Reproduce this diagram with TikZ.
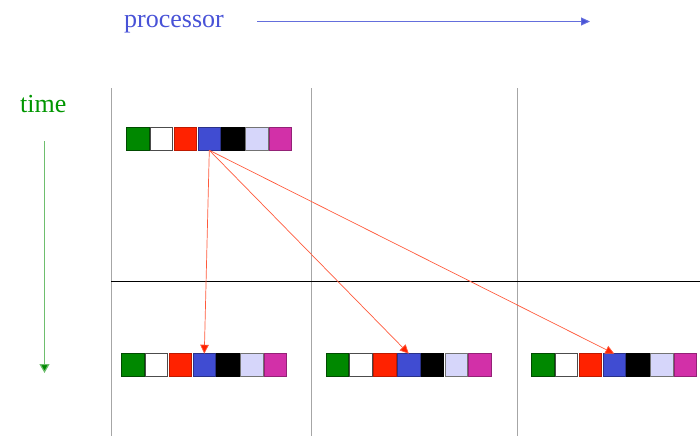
\documentclass[tikz,border=0pt]{standalone}
\usepackage{fontspec}
\setmainfont{Liberation Serif}
\usetikzlibrary{arrows.meta}
\definecolor{sqgreen}{RGB}{0,136,0}
\definecolor{sqred}{RGB}{255,34,0}
\definecolor{sqblue}{RGB}{64,76,210}
\definecolor{sqlav}{RGB}{214,214,250}
\definecolor{sqmag}{RGB}{210,48,168}
\definecolor{procblue}{RGB}{72,82,215}
\definecolor{procline}{RGB}{100,110,220}
\definecolor{timegreen}{RGB}{0,150,0}
\definecolor{timeline}{RGB}{110,190,110}
\definecolor{msgred}{RGB}{255,90,60}
\tikzset{
  sq/.style={minimum size=22.5pt,inner sep=0pt,outer sep=0pt,line width=1pt},
  divider/.style={draw=gray!70,line width=0.8pt},
  msg/.style={draw=msgred,line width=0.7pt,-{Triangle[width=8.5pt,length=9pt,fill=sqred]}},
  lbl/.style={font=\fontsize{26}{30}\selectfont,inner sep=0pt}
}
\newcommand{\cellrow}[3]{% name prefix, left x, center y
  \foreach \c/\f/\d [count=\i from 0] in {sqgreen/sqgreen/sqgreen!55!black, white/white/black!70, sqred/sqred/sqred!75!black, sqblue/sqblue/sqblue!65!black, black/black/black, sqlav/sqlav/black!55, sqmag/sqmag/sqmag!70!black}{
    \node[sq,fill=\f,draw=\d] (#1\i) at ({#2+11.9+23.8*\i},#3) {};
  }
}
\begin{document}
\begin{tikzpicture}[x=1pt,y=-1pt]
\useasboundingbox (0,0) rectangle (700,436);
% dividers
\coordinate (v1t) at (111,88); \coordinate (v1b) at (111,436);
\coordinate (v2t) at (311,88); \coordinate (v2b) at (311,436);
\coordinate (v3t) at (517,88); \coordinate (v3b) at (517,436);
\draw[divider] (v1t) -- (v1b);
\draw[divider] (v2t) -- (v2b);
\draw[divider] (v3t) -- (v3b);
\coordinate (hl) at (111,281); \coordinate (hr) at (700,281);
\draw[black,line width=0.8pt] (hl) -- (hr);
% labels
\node[lbl,text=procblue,anchor=base west] (proc) at (124,28) {processor};
\coordinate (pa) at (257,21.5); \coordinate (pb) at (590,21.5);
\draw[procline,line width=1pt,-{Triangle[width=8pt,length=9pt,fill=procblue]}] (pa) -- (pb);
\node[lbl,text=timegreen,anchor=base west] (time) at (20,112) {time};
\coordinate (ta) at (44.5,141); \coordinate (tb) at (44.5,373);
\draw[timeline,line width=1.2pt,-{Triangle[width=10pt,length=9pt,fill=sqgreen]}] (ta) -- (tb);
% cell rows
\cellrow{t}{126}{139}
\cellrow{a}{121}{365}
\cellrow{b}{325.5}{365}
\cellrow{c}{531}{365}
% messages
\draw[msg] (t3.south) -- (a3.north);
\draw[msg] (t3.south) -- (b3.north);
\draw[msg] (t3.south) -- (c3.north);
\end{tikzpicture}
\end{document}
